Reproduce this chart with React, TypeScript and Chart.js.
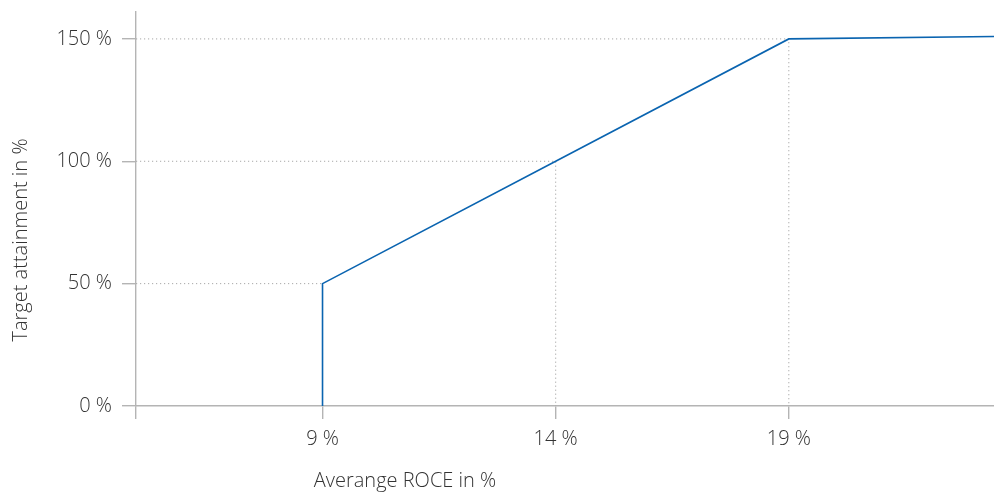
import React, { useEffect, useRef } from 'react';
import { Chart, registerables } from 'chart.js';

Chart.register(...registerables);

// ---- data ----
const roceValues = [9, 9, 14, 19, 23.4];
const attainmentValues = [0, 50, 100, 150, 151];
const markerRoce = [9, 14, 19];
const markerAttainment = [50, 100, 150];
const xTickValues = [5, 9, 14, 19];
const xTickLabels = ['', '9 %', '14 %', '19 %'];
const yTickValues = [0, 50, 100, 150];
const yTickLabels = ['0 %', '50 %', '100 %', '150 %'];
const xTitle = 'Averange ROCE in %';
const yTitle = 'Target attainment in %';
const X_MIN = 5;
const X_MAX = 23.4;
const Y_MIN = 0;
const Y_MAX = 161;

const FONT = "'Open Sans', sans-serif";
const TEXT_COLOR = '#333333';
const AXIS_COLOR = '#b4b4b4';
const LINE_COLOR = '#0a64b0';
const FONT_SIZE = 20;
const FONT_WEIGHT = '300';

const titlesPlugin = {
  id: 'axisTitles',
  afterDraw(chart: any) {
    const ctx = chart.ctx;
    const area = chart.chartArea;
    ctx.save();
    ctx.fillStyle = TEXT_COLOR;
    ctx.font = `${FONT_WEIGHT} ${FONT_SIZE}px ${FONT}`;
    ctx.textAlign = 'center';
    ctx.textBaseline = 'middle';
    ctx.fillText(xTitle, 405, area.bottom + 75);
    ctx.translate(21, 240);
    ctx.rotate(-Math.PI / 2);
    ctx.fillText(yTitle, 0, 0);
    ctx.restore();
  },
};

export default function App() {
  const canvasRef = useRef<HTMLCanvasElement | null>(null);

  useEffect(() => {
    const canvas = canvasRef.current;
    if (!canvas) return;

    const mainData = roceValues.map((x, i) => ({ x, y: attainmentValues[i] }));
    const dropSets = markerRoce.map((x, i) => ({
      label: 'drop' + i,
      data: [
        { x: X_MIN, y: markerAttainment[i] },
        { x, y: markerAttainment[i] },
        { x, y: Y_MIN },
      ],
      borderColor: '#a8a8a8',
      borderWidth: 1,
      borderDash: [1.2, 2.8],
      pointRadius: 0,
      fill: false,
      tension: 0,
    }));

    const tickFont = { family: FONT, size: FONT_SIZE, weight: FONT_WEIGHT as any };

    const chart = new Chart(canvas, {
      type: 'line',
      data: {
        datasets: [
          {
            label: 'Target attainment',
            data: mainData,
            borderColor: LINE_COLOR,
            borderWidth: 1.6,
            pointRadius: 0,
            fill: false,
            tension: 0,
            clip: false as any,
          },
          ...dropSets,
        ],
      },
      plugins: [titlesPlugin],
      options: {
        responsive: false,
        animation: false,
        layout: { padding: { top: 12, right: 0, bottom: 0, left: 0 } },
        plugins: {
          legend: { display: false },
          tooltip: { enabled: false },
          title: { display: false },
        },
        scales: {
          x: {
            type: 'linear',
            min: X_MIN,
            max: X_MAX,
            afterBuildTicks: (scale: any) => {
              scale.ticks = xTickValues.map((v) => ({ value: v }));
            },
            afterFit: (scale: any) => {
              scale.height = 86;
              scale.paddingLeft = 0;
              scale.paddingRight = 0;
            },
            ticks: {
              autoSkip: false,
              maxRotation: 0,
              padding: 8,
              color: TEXT_COLOR,
              font: tickFont,
              callback: (value: any) => {
                const idx = xTickValues.indexOf(Number(value));
                return idx >= 0 ? xTickLabels[idx] : '';
              },
            },
            grid: {
              drawOnChartArea: false,
              drawTicks: true,
              tickLength: 13,
              color: AXIS_COLOR,
              lineWidth: 1.4,
            },
            border: { display: true, color: AXIS_COLOR, width: 1.4 },
          },
          y: {
            type: 'linear',
            min: Y_MIN,
            max: Y_MAX,
            afterBuildTicks: (scale: any) => {
              scale.ticks = yTickValues.map((v) => ({ value: v }));
            },
            afterFit: (scale: any) => {
              scale.width = 136;
              scale.paddingTop = 0;
              scale.paddingBottom = 0;
            },
            ticks: {
              autoSkip: false,
              padding: 10,
              color: TEXT_COLOR,
              font: tickFont,
              callback: (value: any) => {
                const idx = yTickValues.indexOf(Number(value));
                return idx >= 0 ? yTickLabels[idx] : '';
              },
            },
            grid: {
              drawOnChartArea: false,
              drawTicks: true,
              tickLength: 14,
              color: AXIS_COLOR,
              lineWidth: 1.4,
            },
            border: { display: true, color: AXIS_COLOR, width: 1.4 },
          },
        },
      },
    });

    return () => chart.destroy();
  }, []);

  return (
    <div style={{ position: 'fixed', left: 0, top: 0, width: 994, height: 492, background: '#fff' }}>
      <canvas ref={canvasRef} width={994} height={492} style={{ display: 'block' }} />
    </div>
  );
}
